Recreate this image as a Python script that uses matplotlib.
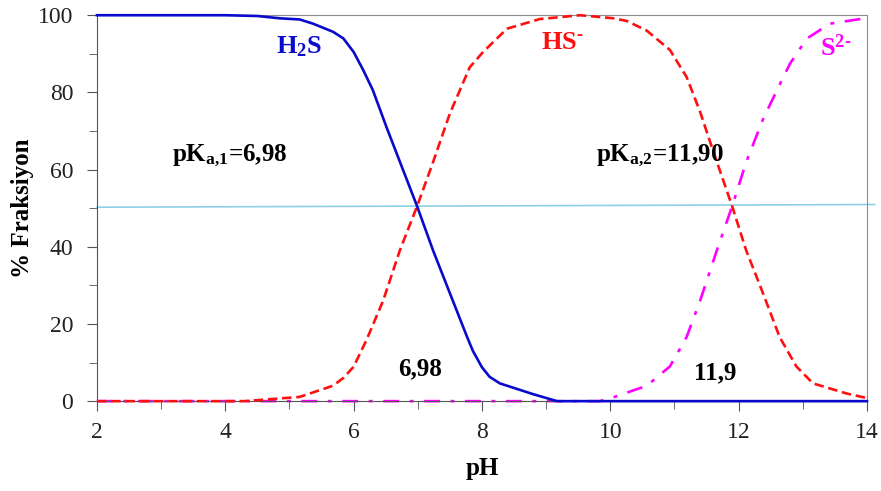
import matplotlib
matplotlib.use('Agg')
import matplotlib.pyplot as plt
from matplotlib.ticker import MultipleLocator

plt.rcParams['font.family'] = ['Liberation Serif', 'DejaVu Serif']
plt.rcParams['mathtext.fontset'] = 'custom'
plt.rcParams['mathtext.rm'] = 'Liberation Serif:bold'
plt.rcParams['mathtext.it'] = 'Liberation Serif:bold'
plt.rcParams['mathtext.bf'] = 'Liberation Serif:bold'

# H2S (solid blue)
ph_h2s = [2, 4, 4.5, 4.85, 5.16, 5.37, 5.68, 5.84, 6.0, 6.15, 6.3, 6.52, 6.99, 7.24, 7.5,
          7.77, 7.86, 8.0, 8.12, 8.28, 8.8, 9.17, 14]
h2s = [100, 100, 99.8, 99.2, 98.9, 97.8, 95.7, 94, 90.5, 85.8, 80.6, 70.7, 50.5, 39, 28,
       16.6, 13, 8.8, 6.3, 4.6, 1.8, 0, 0]

# HS- (dashed red)
ph_hs = [2, 4.3, 5.16, 5.68, 5.84, 6.0, 6.2, 6.46, 6.72, 6.99, 7.24, 7.5, 7.81, 8.02, 8.39,
         8.9, 9.53, 10.05, 10.26, 10.57, 10.93, 11.19, 11.4, 11.6, 11.9, 12.12, 12.38, 12.64,
         12.9, 13.16, 13.68, 14]
hs = [0, 0, 1.1, 4, 6, 8.9, 15.8, 26, 39, 50.5, 62, 74.5, 86.5, 90.5, 96.5,
      99, 100, 99.2, 98.5, 96, 91, 84, 75, 65, 50.5, 39, 28, 16.6,
      9, 4.6, 2, 0.8]

# S2- (dash-dot magenta)
ph_s2 = [2, 9.84, 10.05, 10.57, 10.93, 11.19, 11.4, 11.66, 11.9, 12.12, 12.38, 12.61, 12.8,
         13.06, 13.42, 13.89, 14]
s2 = [0, 0, 1, 4, 9, 16.6, 26, 39, 50.5, 62, 73, 81, 87.4, 93.9, 97.8, 99, 99.3]

# 50 % guide line
ph_half = [2, 14.12]
half = [50.25, 50.95]

fig = plt.figure(figsize=(8.81, 4.91), dpi=100)
ax = fig.add_axes([0.110, 0.183, 0.874, 0.786])

ax.plot(ph_half, half, color='#8ecfe6', lw=1.2, clip_on=False, zorder=1)
ax.plot(ph_s2, s2, color='#ff00ff', lw=1.9, ls=(0, (6, 4, 1.5, 4)), clip_on=False, zorder=2)
ax.plot(ph_hs, hs, color='#ff1010', lw=1.9, ls=(0, (3.6, 1.8)), clip_on=False, zorder=3)
ax.plot(ph_h2s, h2s, color='#0a0acc', lw=1.9, clip_on=False, zorder=4)

ax.set_xlim(2, 14)
ax.set_ylim(0, 100)
ax.xaxis.set_major_locator(MultipleLocator(2))
ax.xaxis.set_minor_locator(MultipleLocator(1))
ax.yaxis.set_major_locator(MultipleLocator(20))
ax.yaxis.set_minor_locator(MultipleLocator(10))
ax.tick_params(which='both', direction='out', color='#555555', labelsize=17, labelcolor='#222222')
ax.tick_params(which='major', length=7)
ax.tick_params(which='minor', length=6)
ax.tick_params(axis='x', pad=8)
ax.tick_params(axis='y', pad=10)

for side in ['top', 'right']:
    ax.spines[side].set_color('#8c8c8c')
for side in ['left', 'bottom']:
    ax.spines[side].set_color('#555555')

ax.set_xlabel('pH', fontsize=18, fontweight='bold', labelpad=10)
ax.set_ylabel('% Fraksiyon', fontsize=18, fontweight='bold', labelpad=3)

ax.text(5.15, 91.8, 'H$_2$S', color='#0a0acc', fontsize=19, fontweight='bold', ha='center', va='center')
ax.text(9.25, 93, 'HS$^{\u2010}$', color='#ff1010', fontsize=19, fontweight='bold', ha='center', va='center')
ax.text(13.52, 91.5, 'S$^{2\u2010}$', color='#ff00ff', fontsize=19, fontweight='bold', ha='center', va='center')
ax.text(4.07, 63.5, 'pK$_{a{,}1}$=6,98', fontsize=18, fontweight='bold', ha='center', va='center')
ax.text(10.77, 63.5, 'pK$_{a{,}2}$=11,90', fontsize=18, fontweight='bold', ha='center', va='center')
ax.text(7.03, 8.5, '6,98', fontsize=18, fontweight='bold', ha='center', va='center')
ax.text(11.63, 7.3, '11,9', fontsize=18, fontweight='bold', ha='center', va='center')

plt.savefig('out.png', dpi=100)
